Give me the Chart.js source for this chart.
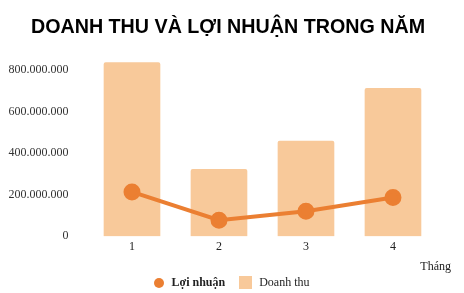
<!DOCTYPE html>
<html>
<head>
<meta charset="utf-8">
<script src="https://cdn.jsdelivr.net/npm/chart.js@4"></script>
<style>
  html, body { margin: 0; padding: 0; background: #fff; }
  #wrap { position: relative; width: 464px; height: 293px; }
  #legend {
    position: absolute; left: 0; right: 0; top: 274px; height: 17px;
    display: flex; justify-content: center; align-items: center;
    font-family: 'Liberation Serif', serif; font-size: 12px; color: #222;
  }
  .item { display: flex; align-items: center; margin: 0 7px; }
  .mark { display: inline-block; margin-right: 7px; }
</style>
</head>
<body>
<div id="wrap"><canvas id="myChart"></canvas><div id="legend"></div></div>
<script>
const months = [1, 2, 3, 4]
const revenue = [835000000, 322000000, 458000000, 712000000]   // Doanh thu
const profit = [213000000, 77000000, 120000000, 186000000]     // Lợi nhuận
const yTicks = [0, 200000000, 400000000, 600000000, 800000000]

const barColor = '#F8C99A'
const lineColor = '#EB7F32'

function fmt (v) {
    return Math.round(v).toString().replace(/\B(?=(\d{3})+(?!\d))/g, '.')
}

// legend drawn as html so the first label can be bold
const htmlLegend = {
    id: 'htmlLegend',
    afterUpdate (chart) {
        let box = document.getElementById('legend')
        box.innerHTML = ''
        chart.data.datasets.forEach((ds, i) => {
            let item = document.createElement('span')
            item.className = 'item'
            let mark = document.createElement('span')
            mark.className = 'mark'
            if (ds.type === 'line') {
                mark.style.cssText = 'width:10px;height:10px;border-radius:50%;background:' + ds.borderColor
            } else {
                mark.style.cssText = 'width:13px;height:13px;background:' + ds.backgroundColor
            }
            let txt = document.createElement('span')
            txt.textContent = ds.label
            if (i === 0) txt.style.fontWeight = 'bold'
            item.appendChild(mark)
            item.appendChild(txt)
            box.appendChild(item)
        })
    }
}

let chartContext = document.getElementById('myChart').getContext('2d');

const myChart = new Chart(chartContext, {
    data: {
        datasets: [
            {
                type: 'line',
                label: 'Lợi nhuận',
                data: months.map((m, i) => ({x: m, y: profit[i]})),
                borderColor: lineColor,
                backgroundColor: lineColor,
                borderWidth: 4,
                pointRadius: 6.5,
                pointHoverRadius: 6.5,
                tension: 0,
                order: 0
            },
            {
                type: 'bar',
                label: 'Doanh thu',
                data: months.map((m, i) => ({x: m, y: revenue[i]})),
                backgroundColor: barColor,
                borderRadius: 2,
                borderSkipped: 'bottom',
                barThickness: 56,
                order: 1
            }
        ]
    },
    plugins: [htmlLegend],
    options: {
        responsive: true,
        maintainAspectRatio: false,
        animation: false,
        layout: {padding: {left: 5, right: 13, top: 8, bottom: 19}},
        plugins: {
            title: {
                display: true,
                text: 'DOANH THU VÀ LỢI NHUẬN TRONG NĂM',
                color: '#000',
                font: {family: 'Liberation Sans', size: 19.7, weight: 'bold'},
                padding: {top: 8, bottom: 22}
            },
            legend: {display: false},
            tooltip: {enabled: false}
        },
        scales: {
            x: {
                type: 'linear',
                offset: false,
                min: 0.5,
                max: 4.667,
                grid: {display: false, drawTicks: false},
                border: {display: false},
                afterBuildTicks: function (axis) {
                    axis.ticks = months.map(m => ({value: m}))
                },
                ticks: {
                    color: '#222',
                    font: {family: 'Liberation Serif', size: 12},
                    padding: 3,
                    callback: v => String(v)
                },
                title: {
                    display: true,
                    text: 'Tháng',
                    align: 'end',
                    color: '#222',
                    font: {family: 'Liberation Serif', size: 12},
                    padding: {top: 3, bottom: 0}
                }
            },
            y: {
                min: 0,
                max: 840000000,
                grid: {display: false, drawTicks: false},
                border: {display: false},
                afterBuildTicks: function (axis) {
                    axis.ticks = yTicks.map(v => ({value: v}))
                },
                afterFit: function (axis) {
                    axis.width = 83.5
                },
                ticks: {
                    color: '#333',
                    font: {family: 'Liberation Serif', size: 12},
                    padding: 20,
                    callback: v => fmt(v)
                }
            }
        }
    }
})
</script>
</body>
</html>
